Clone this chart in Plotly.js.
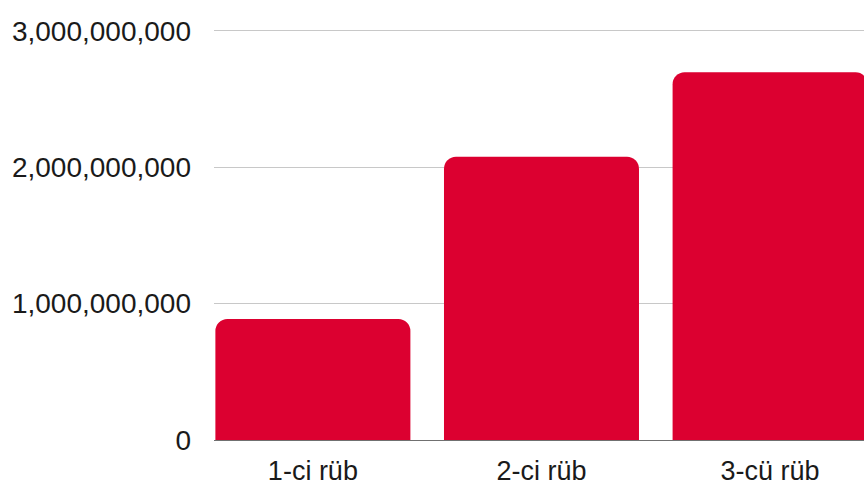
<!DOCTYPE html>
<html>
<head>
<meta charset="utf-8">
<script src="https://cdn.plot.ly/plotly-3.0.1.min.js"></script>
<style>html,body{margin:0;padding:0;background:#fff;}#chart{width:864px;height:486px;}</style>
</head>
<body>
<div id="chart"></div>
<script>
const categories = ["1-ci rüb", "2-ci rüb", "3-cü rüb"];
const values = [888000000, 2078000000, 2697000000];
const tickValues = [0, 1000000000, 2000000000, 3000000000];
const tickLabels = ["0", "1,000,000,000", "2,000,000,000", "3,000,000,000"];

const trace = {
  type: "bar",
  x: [0, 1, 2],
  y: values,
  marker: { color: "#DC0030", cornerradius: 12, line: { width: 0 } },
  hoverinfo: "skip"
};

const layout = {
  width: 864,
  height: 486,
  margin: { l: 214, r: 0, t: 26, b: 46, pad: 0 },
  paper_bgcolor: "#ffffff",
  plot_bgcolor: "#ffffff",
  bargap: 0.147,
  showlegend: false,
  font: { family: "Liberation Sans, Arial, sans-serif", size: 28, color: "#1a1a1a" },
  xaxis: {
    range: [-0.4326, 2.4108],
    tickvals: [0, 1, 2],
    ticktext: categories,
    showgrid: false,
    zeroline: false,
    showline: true,
    linecolor: "#707070",
    linewidth: 1,
    ticks: "",
    ticklabelstandoff: 7,
    tickfont: { size: 27 }
  },
  yaxis: {
    range: [0, 3036000000],
    tickvals: tickValues,
    ticktext: tickLabels,
    showgrid: true,
    gridcolor: "#c8c8c8",
    gridwidth: 1,
    zeroline: false,
    showline: false,
    ticks: "",
    ticklabelstandoff: 22,
    tickfont: { size: 28 }
  }
};

Plotly.newPlot("chart", [trace], layout, { displayModeBar: false, staticPlot: true });
</script>
</body>
</html>
